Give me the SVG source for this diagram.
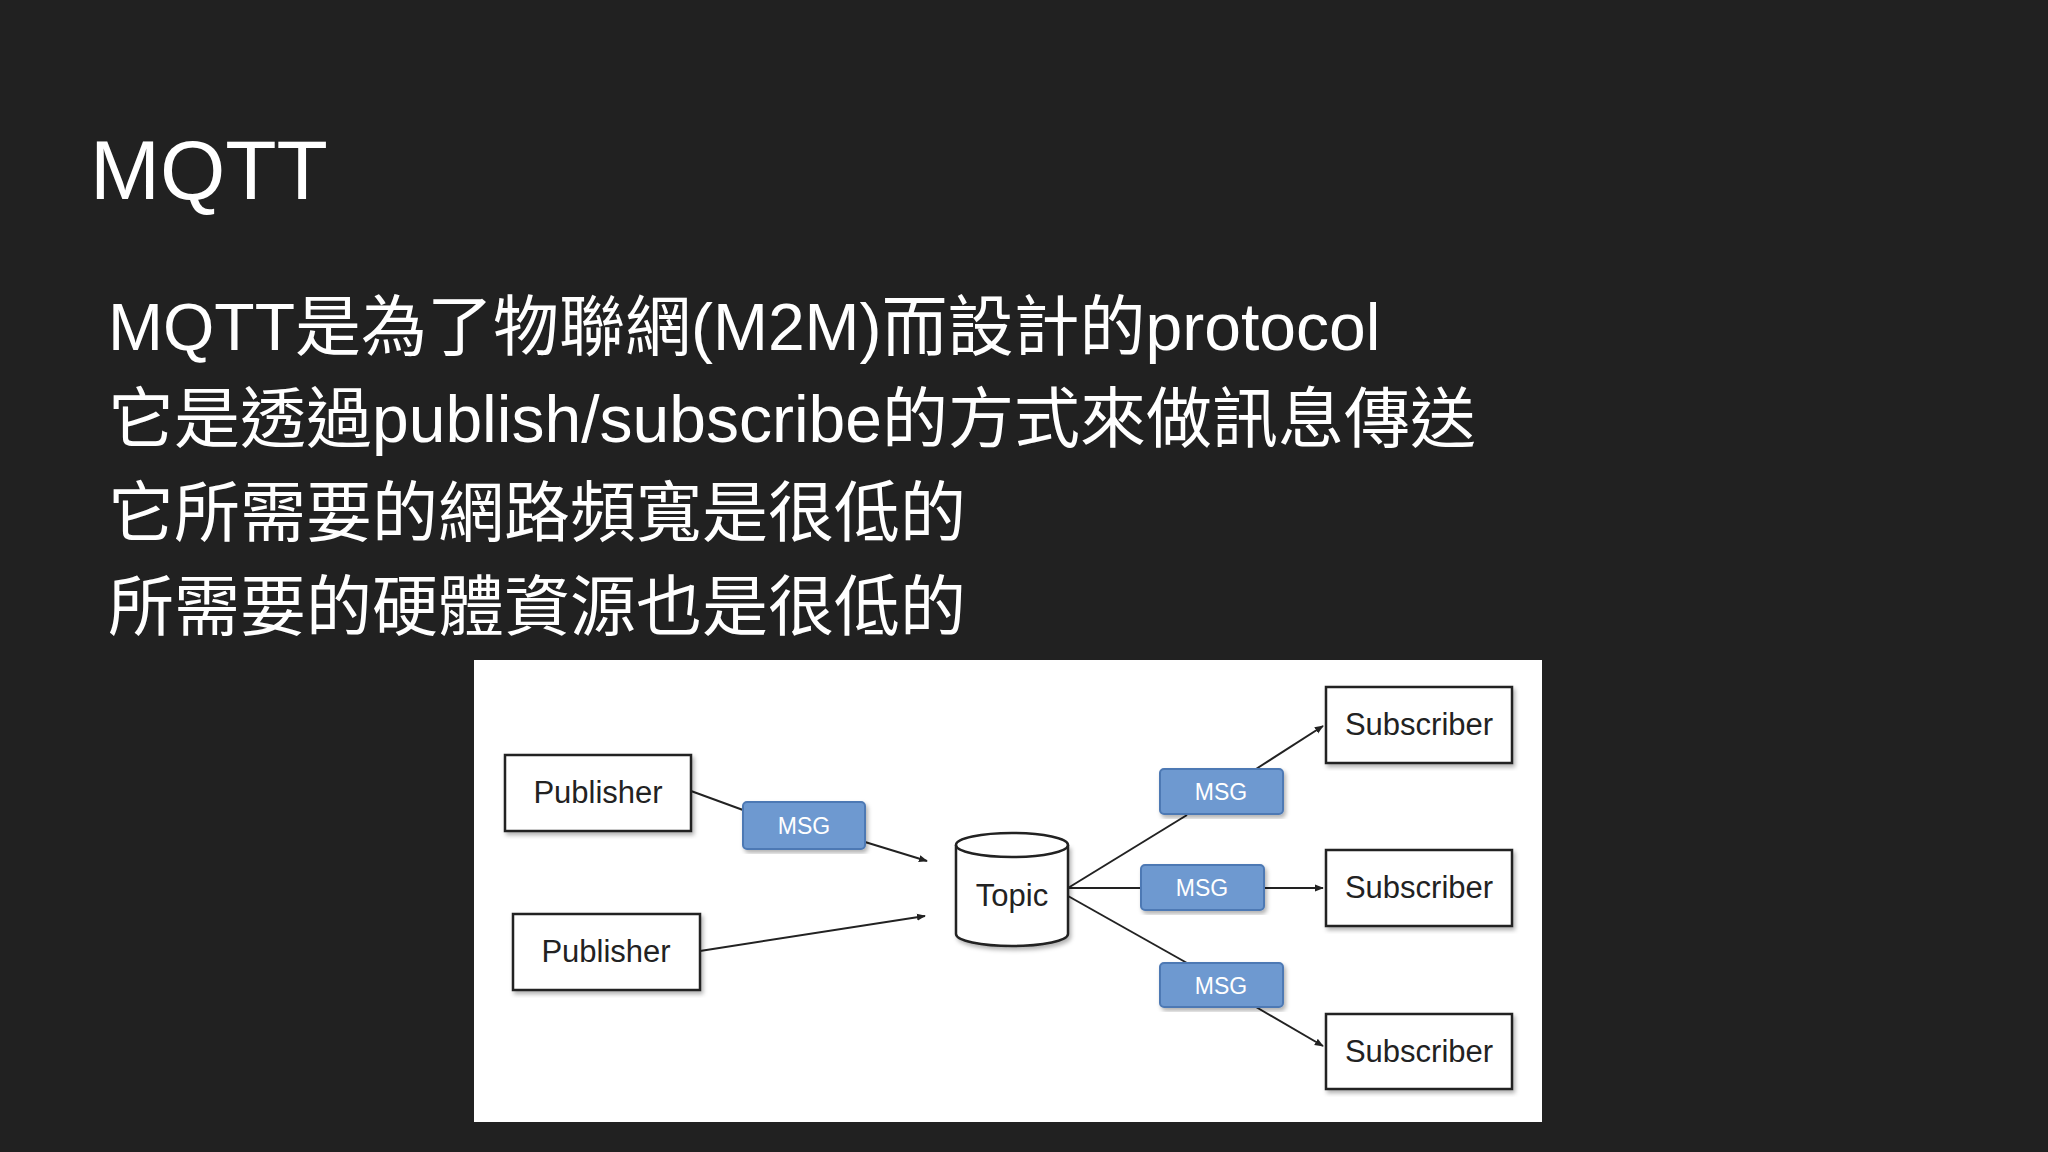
<svg xmlns="http://www.w3.org/2000/svg" width="2048" height="1152" viewBox="0 0 2048 1152">
<defs>
<style>
.t{font-family:"Liberation Sans","Noto Sans CJK TC",sans-serif;fill:#fff}
.box{fill:#fff;stroke:#222;stroke-width:2.5}
.lbl{font-family:"Liberation Sans",Arial,sans-serif;fill:#222;font-size:31px;text-anchor:middle}
.msg{fill:#6e99d0;stroke:#4d79b4;stroke-width:2}
.mt{font-family:"Liberation Sans",Arial,sans-serif;fill:#fff;font-size:23px;text-anchor:middle}
.ln{stroke:#222;stroke-width:2;fill:none}
</style>
<marker id="a" viewBox="0 0 10 10" refX="9" refY="5" markerWidth="9" markerHeight="9" orient="auto" markerUnits="userSpaceOnUse"><path d="M0,1 L10,5 L0,9 z" fill="#222"/></marker>
<filter id="sh"><feDropShadow dx="2" dy="3" stdDeviation="2" flood-opacity="0.3"/></filter>
</defs>
<rect width="2048" height="1152" fill="#212121"/>
<text class="t" x="90" y="199" font-size="84">MQTT</text>
<g class="t" font-size="66">
<text x="108" y="350">MQTT是為了物聯網(M2M)而設計的protocol</text>
<text x="108" y="442">它是透過publish/subscribe的方式來做訊息傳送</text>
<text x="108" y="536">它所需要的網路頻寬是很低的</text>
<text x="108" y="630">所需要的硬體資源也是很低的</text>
</g>
<rect x="474" y="660" width="1068" height="462" fill="#fff"/>
<g id="connectors">
<polyline class="ln" points="691,791 743,810"/>
<line class="ln" x1="865" y1="842" x2="927" y2="861" marker-end="url(#a)"/>
<line class="ln" x1="700" y1="951" x2="925" y2="916" marker-end="url(#a)"/>
<line class="ln" x1="1068" y1="888" x2="1187" y2="815"/>
<line class="ln" x1="1256" y1="769" x2="1323" y2="726" marker-end="url(#a)"/>
<line class="ln" x1="1068" y1="888" x2="1141" y2="888"/>
<line class="ln" x1="1264" y1="888" x2="1323" y2="888" marker-end="url(#a)"/>
<line class="ln" x1="1068" y1="896" x2="1187" y2="963"/>
<line class="ln" x1="1256" y1="1007" x2="1323" y2="1046" marker-end="url(#a)"/>
</g>
<g id="pub1"><rect class="box" x="505" y="755" width="186" height="76" filter="url(#sh)"/><text class="lbl" x="598" y="803">Publisher</text></g>
<g id="pub2"><rect class="box" x="513" y="914" width="187" height="76" filter="url(#sh)"/><text class="lbl" x="606" y="962">Publisher</text></g>
<g id="topic">
<path d="M956,845 L956,934 A56,12 0 0 0 1068,934 L1068,845" class="box" filter="url(#sh)"/>
<ellipse cx="1012" cy="845" rx="56" ry="12" class="box"/>
<text class="lbl" x="1012" y="906">Topic</text>
</g>
<g id="sub1"><rect class="box" x="1326" y="687" width="186" height="76" filter="url(#sh)"/><text class="lbl" x="1419" y="735" font-size="33">Subscriber</text></g>
<g id="sub2"><rect class="box" x="1326" y="850" width="186" height="76" filter="url(#sh)"/><text class="lbl" x="1419" y="898" font-size="33">Subscriber</text></g>
<g id="sub3"><rect class="box" x="1326" y="1014" width="186" height="75" filter="url(#sh)"/><text class="lbl" x="1419" y="1062" font-size="33">Subscriber</text></g>
<g id="msg1"><rect class="msg" x="743" y="802" width="122" height="47" rx="4" filter="url(#sh)"/><text class="mt" x="804" y="834">MSG</text></g>
<g id="msg2"><rect class="msg" x="1160" y="769" width="123" height="45" rx="4" filter="url(#sh)"/><text class="mt" x="1221" y="800">MSG</text></g>
<g id="msg3"><rect class="msg" x="1141" y="865" width="123" height="45" rx="4" filter="url(#sh)"/><text class="mt" x="1202" y="896">MSG</text></g>
<g id="msg4"><rect class="msg" x="1160" y="963" width="123" height="44" rx="4" filter="url(#sh)"/><text class="mt" x="1221" y="994">MSG</text></g>
</svg>
